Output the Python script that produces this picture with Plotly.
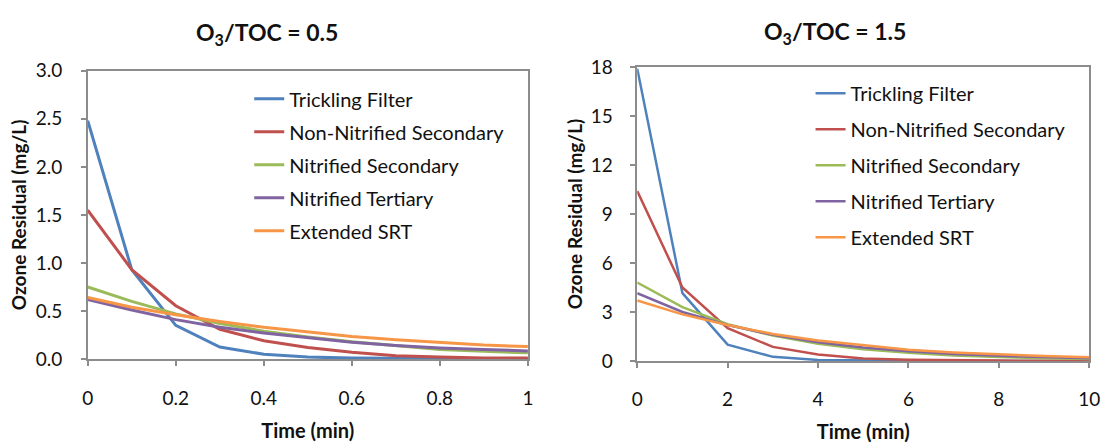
import plotly.graph_objects as go

# ---- data ----
series_names = ["Trickling Filter", "Non-Nitrified Secondary", "Nitrified Secondary",
                "Nitrified Tertiary", "Extended SRT"]
colors = ["#4F81BD", "#C0504D", "#9BBB59", "#8064A2", "#F79646"]

time_left = [0, 0.1, 0.2, 0.3, 0.4, 0.5, 0.6, 0.7, 0.8, 0.9, 1.0]
tf_left = [2.48, 0.93, 0.35, 0.125, 0.05, 0.02, 0.01, 0.005, 0.003, 0.002, 0.001]
nns_left = [1.55, 0.93, 0.555, 0.31, 0.19, 0.12, 0.07, 0.035, 0.02, 0.01, 0.01]
ns_left = [0.75, 0.6, 0.47, 0.37, 0.29, 0.23, 0.18, 0.14, 0.1, 0.08, 0.065]
nt_left = [0.62, 0.51, 0.41, 0.33, 0.27, 0.22, 0.175, 0.14, 0.115, 0.1, 0.085]
srt_left = [0.64, 0.54, 0.46, 0.39, 0.33, 0.28, 0.235, 0.2, 0.17, 0.145, 0.13]

time_right = [0, 1, 2, 3, 4, 5, 6, 7, 8, 9, 10]
tf_right = [17.9, 4.15, 1.0, 0.25, 0.06, 0.02, 0.01, 0.0, 0.0, 0.0, 0.0]
nns_right = [10.4, 4.5, 2.0, 0.86, 0.4, 0.15, 0.07, 0.03, 0.02, 0.01, 0.01]
ns_right = [4.8, 3.3, 2.25, 1.55, 1.05, 0.72, 0.5, 0.34, 0.24, 0.17, 0.12]
nt_right = [4.15, 3.0, 2.2, 1.6, 1.15, 0.82, 0.6, 0.43, 0.31, 0.22, 0.16]
srt_right = [3.7, 2.85, 2.2, 1.65, 1.25, 0.95, 0.68, 0.52, 0.4, 0.3, 0.22]

left_ticks_y = [0, 0.5, 1.0, 1.5, 2.0, 2.5, 3.0]
left_ticks_x = [0, 0.2, 0.4, 0.6, 0.8, 1.0]
left_ticks_x_text = ["0", "0.2", "0.4", "0.6", "0.8", "1"]
right_ticks_y = [0, 3, 6, 9, 12, 15, 18]
right_ticks_x = [0, 2, 4, 6, 8, 10]

titles = ["<b>O<sub>3</sub>/TOC = 0.5</b>", "<b>O<sub>3</sub>/TOC = 1.5</b>"]
x_title = "Time (min)"
y_title = "Ozone Residual (mg/L)"

W, H = 1116, 444
FONT = "Lato, 'Open Sans', sans-serif"
TXT = "#111111"
AX = "#8c8c8c"

fig = go.Figure()

left_data = [tf_left, nns_left, ns_left, nt_left, srt_left]
right_data = [tf_right, nns_right, ns_right, nt_right, srt_right]

for i, (name, c, ys) in enumerate(zip(series_names, colors, left_data)):
    fig.add_trace(go.Scatter(x=time_left, y=ys, name=name, mode="lines",
                             line=dict(color=c, width=3), xaxis="x", yaxis="y",
                             legend="legend", legendgroup="L%d" % i))
for i, (name, c, ys) in enumerate(zip(series_names, colors, right_data)):
    fig.add_trace(go.Scatter(x=time_right, y=ys, name=name, mode="lines",
                             line=dict(color=c, width=2.5), xaxis="x2", yaxis="y2",
                             legend="legend2", legendgroup="R%d" % i))

def px_x(p):
    return p / W

def px_y(p):
    return 1 - p / H

axis_common = dict(showgrid=False, zeroline=False, showline=True, linecolor=AX,
                   linewidth=1.5, mirror=True, ticks="outside", ticklen=5,
                   tickcolor=AX, tickwidth=1.5,
                   tickfont=dict(family=FONT, size=19, color=TXT))

xt_font = dict(family=FONT, size=20, color=TXT)
yt_font = dict(family=FONT, size=19, color=TXT)

fig.update_layout(
    width=W, height=H, margin=dict(l=0, r=0, t=0, b=0),
    paper_bgcolor="white", plot_bgcolor="white", font=dict(family=FONT, color=TXT),
    xaxis=dict(domain=[px_x(83), px_x(530)], range=[0, 1], tickvals=left_ticks_x,
               ticktext=left_ticks_x_text, anchor="y", ticklabelstandoff=16,
               title=dict(text="<b>%s</b>" % x_title, standoff=16, font=xt_font),
               **axis_common),
    yaxis=dict(domain=[px_y(366), px_y(62)], range=[0, 3.0], tickvals=left_ticks_y,
               tickformat=".1f", anchor="x", ticklabelstandoff=15,
               title=dict(text="<b>%s</b>" % y_title, standoff=4, font=yt_font),
               **axis_common),
    xaxis2=dict(domain=[px_x(641), px_x(1100)], range=[0, 10], tickvals=right_ticks_x,
                anchor="y2", ticklabelstandoff=16,
                title=dict(text="<b>%s</b>" % x_title, standoff=16, font=xt_font),
                **axis_common),
    yaxis2=dict(domain=[px_y(368), px_y(58)], range=[0, 18], tickvals=right_ticks_y,
                anchor="x2", ticklabelstandoff=14,
                title=dict(text="<b>%s</b>" % y_title, standoff=3, font=yt_font),
                **axis_common),
    legend=dict(x=px_x(247), y=px_y(71), xanchor="left", yanchor="top",
                bgcolor="rgba(0,0,0,0)", font=dict(family=FONT, size=20, color=TXT),
                tracegroupgap=4, itemwidth=30),
    legend2=dict(x=px_x(817), y=px_y(65), xanchor="left", yanchor="top",
                 bgcolor="rgba(0,0,0,0)", font=dict(family=FONT, size=20, color=TXT),
                 tracegroupgap=7, itemwidth=30),
    annotations=[
        dict(text=titles[0], x=px_x(265), y=px_y(23), xref="paper", yref="paper",
             showarrow=False, xanchor="center", yanchor="middle",
             font=dict(family=FONT, size=23, color=TXT)),
        dict(text=titles[1], x=px_x(842), y=px_y(22), xref="paper", yref="paper",
             showarrow=False, xanchor="center", yanchor="middle",
             font=dict(family=FONT, size=23, color=TXT)),
    ],
)

fig.write_html("out.html")
